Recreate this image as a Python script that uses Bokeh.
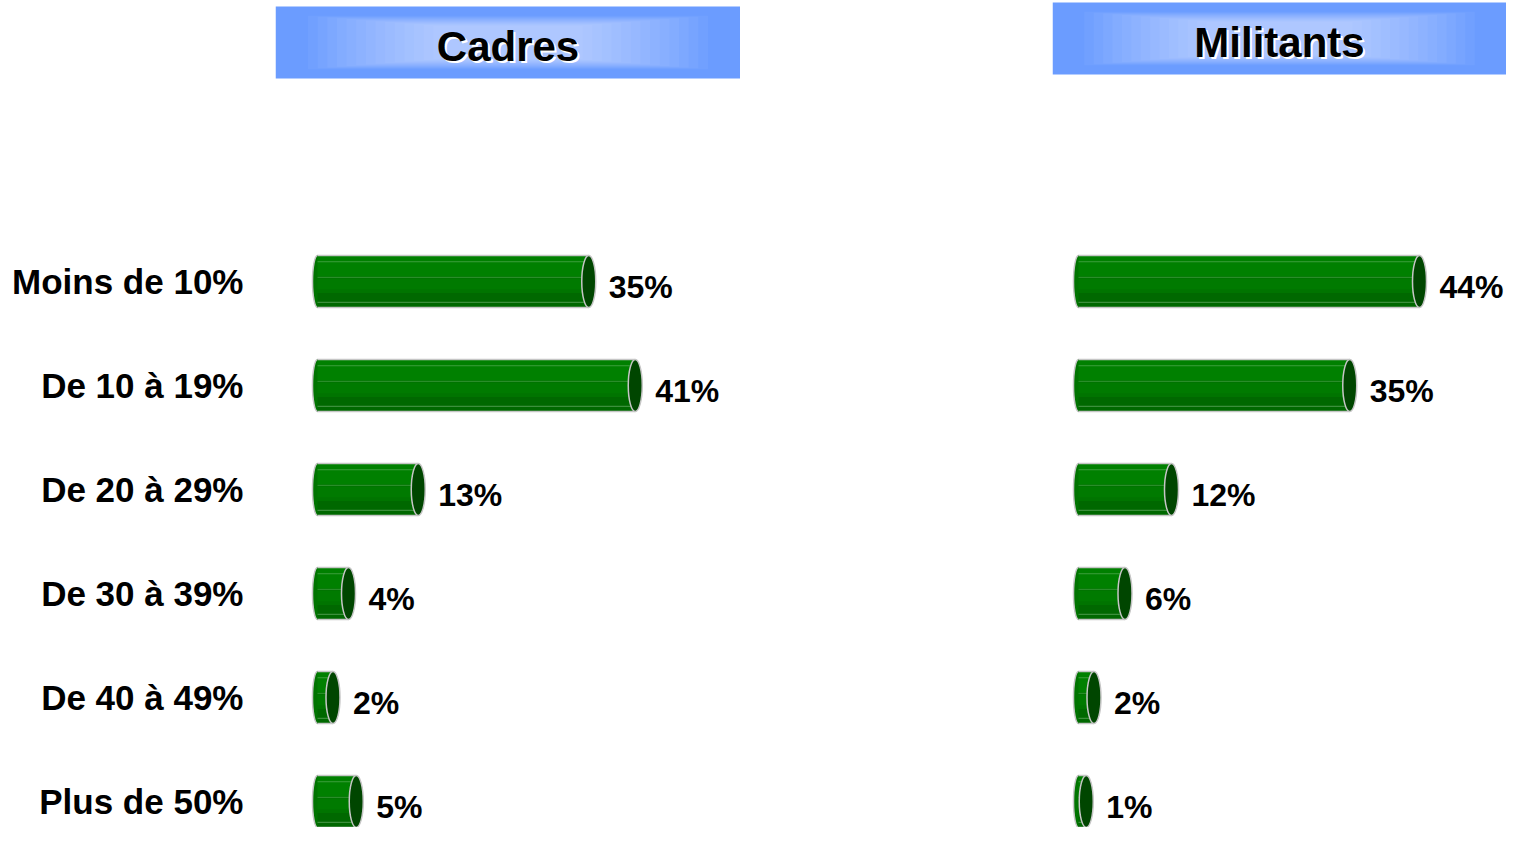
from bokeh.plotting import figure
from bokeh.layouts import row
from bokeh.models import Range1d, FixedTicker
from bokeh.core.properties import value
from bokeh.embed import file_html
from bokeh.resources import INLINE

categories = ["Moins de 10%", "De 10 à 19%", "De 20 à 29%", "De 30 à 39%", "De 40 à 49%", "Plus de 50%"]
cadres = [35, 41, 13, 4, 2, 5]
militants = [44, 35, 12, 6, 2, 1]
titles = ["Cadres", "Militants"]

FONT = "Liberation Sans"
PX = 7.75          # pixels per percentage point
H = 827
ROW_PX = 104.0
Y_RANGE = (5 + (H - 801) / ROW_PX, -281 / ROW_PX)
BAR_H = 0.5

BODY = "#007400"
TOP = "#008000"
MID = "#007a00"
BOTTOM = "#006800"
CAP = "#004600"
EDGE = "#c6c6c6"


def make_panel(vals, title, width, border_left, zero_px, hdr, show_axis):
    frame_w = width - border_left
    x0 = -zero_px / PX
    x1 = (frame_w - zero_px) / PX
    p = figure(width=width, height=H, x_range=Range1d(x0, x1),
               y_range=Range1d(*Y_RANGE), output_backend="svg",
               toolbar_location=None, x_axis_location=None,
               y_axis_location="left" if show_axis else None,
               min_border_left=border_left, min_border_right=0,
               min_border_top=0, min_border_bottom=0,
               outline_line_color=None, background_fill_color="white",
               border_fill_color="white")
    p.grid.grid_line_color = None

    # header box with soft glow
    htop, hbot = hdr
    p.quad(left=[x0], right=[x1], top=[htop], bottom=[hbot],
           fill_color="#6b9cff", line_color=None)
    cx = (x0 + x1) / 2
    cy = (htop + hbot) / 2
    hw = (x1 - x0) / 2
    hh = (hbot - htop) / 2
    N = 14
    ls, rs, ts, bs = [], [], [], []
    for k in range(N):
        f = k / N
        w = hw * (0.86 - 0.58 * f)
        h = hh * (0.74 - 0.30 * f)
        ls.append(cx - w); rs.append(cx + w)
        ts.append(cy - h); bs.append(cy + h)
    p.quad(left=ls, right=rs, top=ts, bottom=bs, fill_color="white",
           fill_alpha=0.046, line_color=None)
    p.text(x=[cx], y=[cy], text=[title], text_align="center",
           text_baseline="middle", text_font=value(FONT), text_font_style="bold",
           text_font_size="42px", text_color="white", x_offset=2, y_offset=6)
    p.text(x=[cx], y=[cy], text=[title], text_align="center",
           text_baseline="middle", text_font=value(FONT), text_font_style="bold",
           text_font_size="42px", text_color="black", y_offset=4)

    ys = list(range(len(vals)))
    zeros = [0] * len(vals)
    # left rounded end
    p.ellipse(x=zeros, y=ys, width=10, height=BAR_H, width_units="screen",
              fill_color=BODY, line_color=EDGE, line_width=1.5)
    # body with banded shading
    p.hbar(y=ys, left=0, right=vals, height=BAR_H, fill_color=BODY, line_color=None)
    p.hbar(y=[y - BAR_H * 0.3 for y in ys], left=0, right=vals, height=BAR_H * 0.4,
           fill_color=TOP, line_color=None)
    p.hbar(y=[y + BAR_H * 0.05 for y in ys], left=0, right=vals, height=BAR_H * 0.2,
           fill_color=MID, line_color=None)
    p.hbar(y=[y + BAR_H * 0.36 for y in ys], left=0, right=vals, height=BAR_H * 0.28,
           fill_color=BOTTOM, line_color=None)
    # facet lines
    for off, a in ((-0.19, 0.35), (-0.04, 0.3), (0.2, 0.45)):
        p.segment(x0=zeros, y0=[y + off for y in ys], x1=vals, y1=[y + off for y in ys],
                  line_color="#a8d8a8", line_alpha=a, line_width=1)
    # outline top / bottom
    p.segment(x0=zeros, y0=[y - BAR_H / 2 for y in ys], x1=vals,
              y1=[y - BAR_H / 2 for y in ys], line_color=EDGE, line_width=1.5)
    p.segment(x0=zeros, y0=[y + BAR_H / 2 for y in ys], x1=vals,
              y1=[y + BAR_H / 2 for y in ys], line_color=EDGE, line_width=1.5)
    # end cap
    p.ellipse(x=vals, y=ys, width=14, height=BAR_H, width_units="screen",
              fill_color=CAP, line_color=EDGE, line_width=1.5)
    # value labels
    p.text(x=vals, y=ys, text=[f"{v}%" for v in vals], x_offset=20, y_offset=5,
           text_baseline="middle", text_align="left", text_font=value(FONT),
           text_font_style="bold", text_font_size="32px", text_color="black")

    if show_axis:
        ax = p.yaxis[0]
        ax.ticker = FixedTicker(ticks=ys)
        ax.major_label_overrides = {i: c for i, c in enumerate(categories)}
        ax.axis_line_color = None
        ax.major_tick_line_color = None
        ax.minor_tick_line_color = None
        ax.major_tick_out = 0
        ax.major_tick_in = 0
        ax.major_label_standoff = 32
        ax.major_label_text_font = FONT
        ax.major_label_text_font_style = "bold"
        ax.major_label_text_font_size = "35px"
        ax.major_label_text_color = "black"
    return p


p1 = make_panel(cadres, titles[0], 740, 275, 42,
                ((6 - 281) / ROW_PX, (78 - 281) / ROW_PX), True)
p2 = make_panel(militants, titles[1], 766, 312, 26,
                ((2 - 281) / ROW_PX, (74 - 281) / ROW_PX), False)

layout = row(p1, p2)
open("out.html", "w").write(file_html(layout, INLINE))
